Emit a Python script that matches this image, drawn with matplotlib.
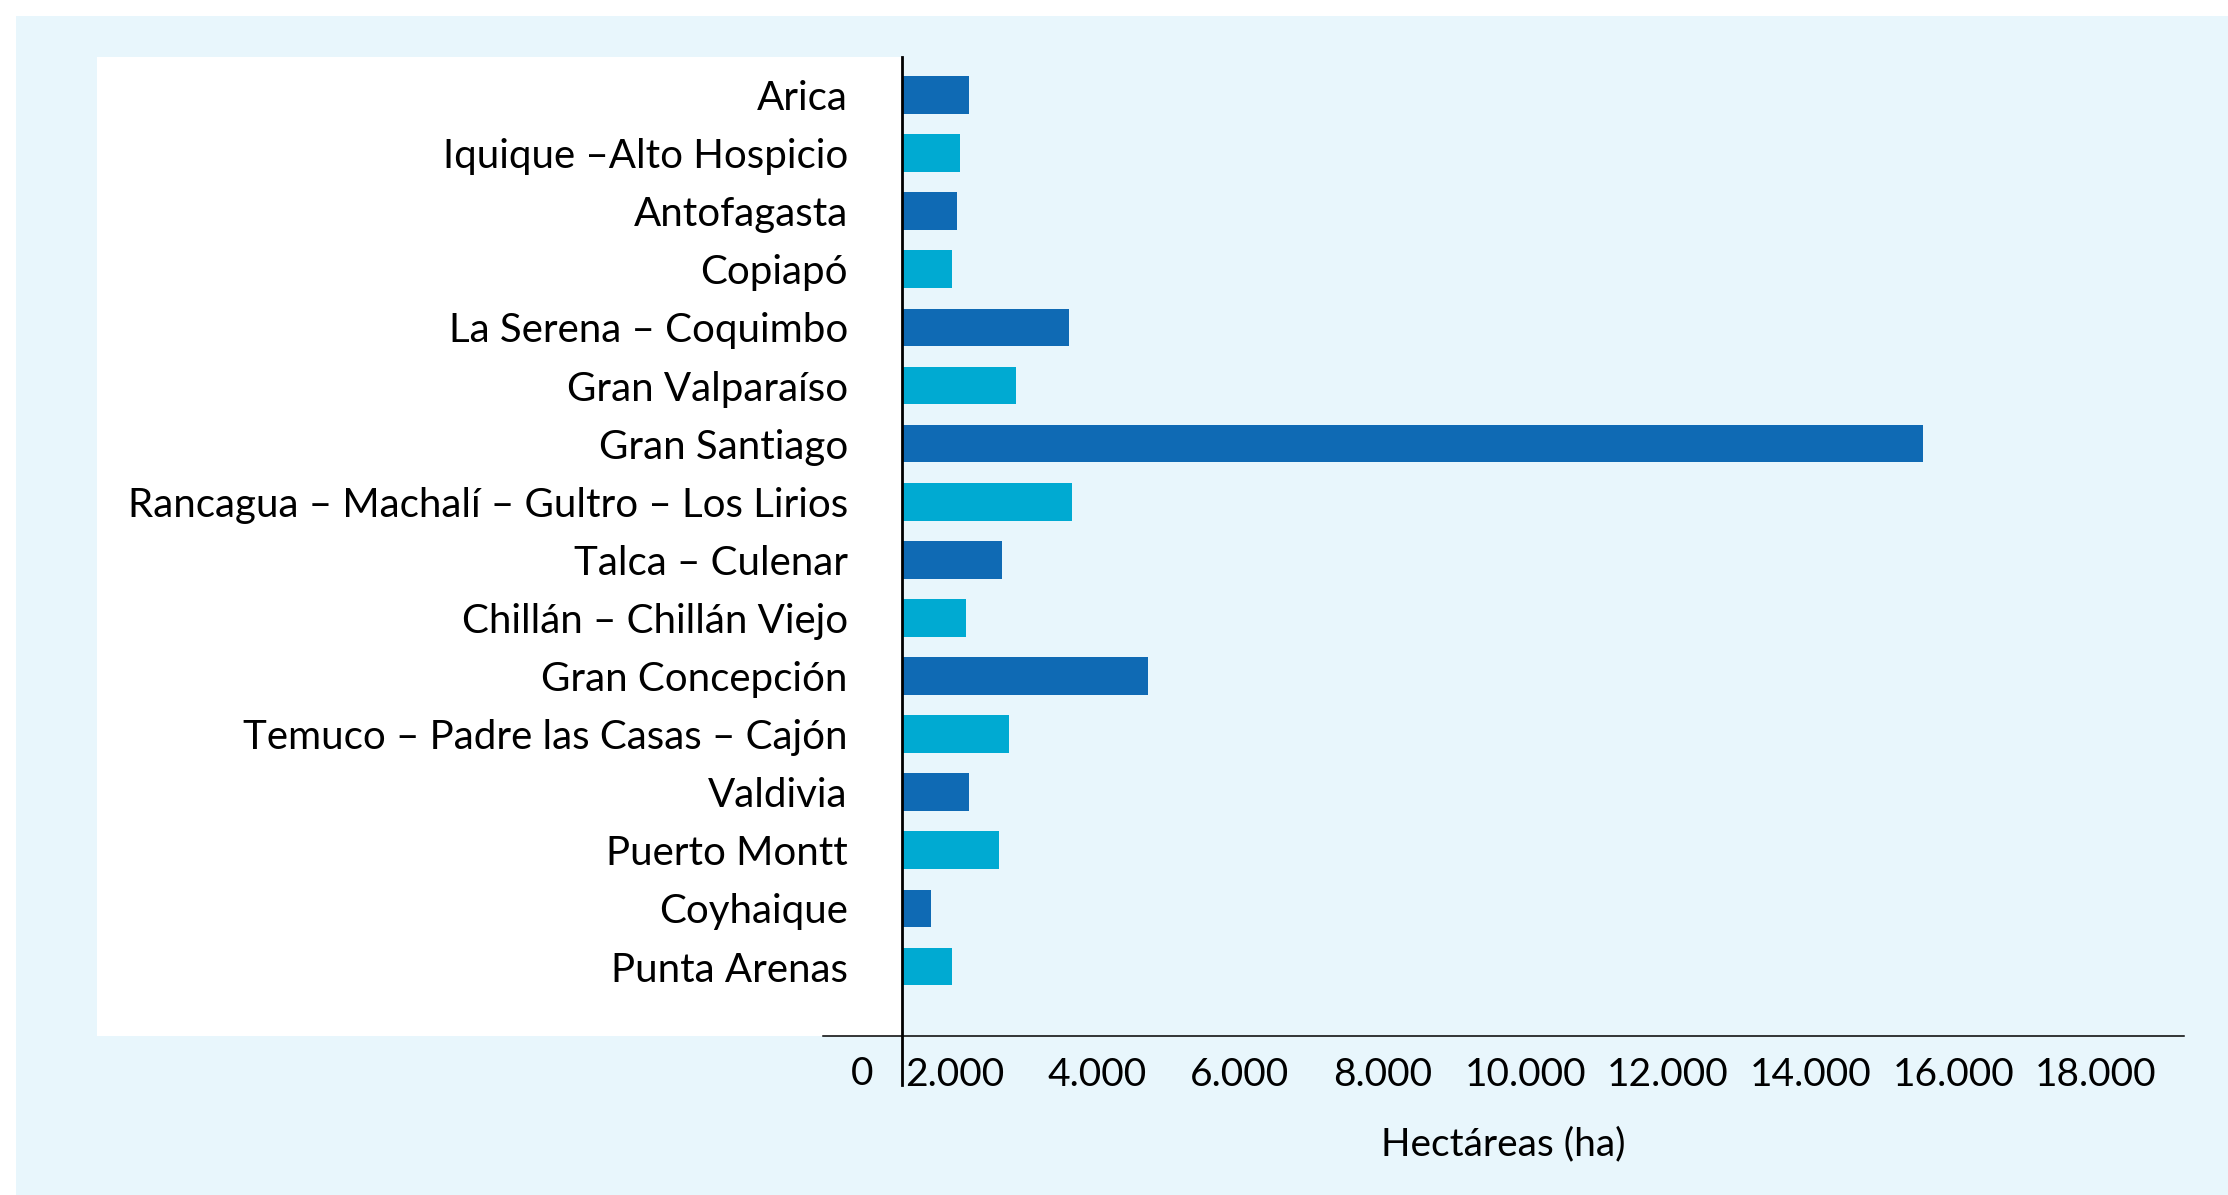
import matplotlib.pyplot as plt
import matplotlib.patches as mpatches
import matplotlib.transforms as mtrans
from matplotlib.ticker import FuncFormatter

# values in hectares
cities = [
    "Arica", "Iquique –Alto Hospicio", "Antofagasta", "Copiapó",
    "La Serena – Coquimbo", "Gran Valparaíso", "Gran Santiago",
    "Rancagua – Machalí – Gultro – Los Lirios", "Talca – Culenar",
    "Chillán – Chillán Viejo", "Gran Concepción",
    "Temuco – Padre las Casas – Cajón", "Valdivia", "Puerto Montt",
    "Coyhaique", "Punta Arenas",
]
hectares = [2200, 2075, 2030, 1960, 3600, 2860, 15580, 3645,
            2665, 2160, 4710, 2760, 2200, 2620, 1670, 1960]
xticks = [2000, 4000, 6000, 8000, 10000, 12000, 14000, 16000, 18000]

# the vertical axis crosses the value axis here (bars start from it)
axis_cross = 1262

dark = "#0F6AB4"
light = "#00AAD2"
bg = "#E8F6FC"
font = "Lato"

W, H = 2228, 1195
fig = plt.figure(figsize=(W / 100, H / 100), dpi=100)
fig.patch.set_facecolor("white")

# light blue panel and white label area
fig.patches.append(mpatches.Rectangle((16 / W, 0), 1, (H - 16) / H,
                                      transform=fig.transFigure,
                                      facecolor=bg, edgecolor="none", zorder=-2))
fig.patches.append(mpatches.Rectangle((97 / W, (H - 1036) / H), (902 - 97) / W,
                                      (1036 - 57) / H, transform=fig.transFigure,
                                      facecolor="white", edgecolor="none", zorder=-1))

ax = fig.add_axes([823 / W, (H - 1036) / H, (2184 - 823) / W, (1036 - 57) / H])
ax.set_facecolor("none")

colors = [dark if i % 2 == 0 else light for i in range(len(cities))]
ypos = list(range(len(cities)))
ax.barh(ypos, [v - axis_cross for v in hectares], left=axis_cross,
        height=0.65, color=colors, zorder=3)

ax.set_xlim(154, 19235)
ax.set_ylim(16.196, -0.654)

for s in ["top", "right"]:
    ax.spines[s].set_visible(False)
ax.spines["left"].set_position(("data", axis_cross))
ax.spines["left"].set_visible(False)
ax.spines["bottom"].set_linewidth(1.1)
ax.axvline(axis_cross, ymin=-(1085 - 1036) / (1036 - 57), ymax=1,
           color="black", lw=2.0, clip_on=False, zorder=4)

ax.set_yticks(ypos)
ax.set_yticklabels(cities, fontsize=29, fontfamily=font)
ax.tick_params(axis="y", length=0, pad=39)

ax.set_xticks(xticks)
ax.xaxis.set_major_formatter(FuncFormatter(lambda v, p: f"{int(v):,}".replace(",", ".")))
ax.tick_params(axis="x", length=0, pad=15, labelsize=28)
for lab in ax.get_xticklabels():
    lab.set_fontfamily(font)

off = mtrans.offset_copy(ax.get_xaxis_transform(), fig=fig, x=-40, y=-38, units="dots")
ax.text(axis_cross, 0, "0", transform=off, fontsize=28, fontfamily=font,
        ha="center", va="center")

ax.set_xlabel("Hectáreas (ha)", fontsize=28, fontfamily=font, labelpad=24)

fig.savefig("out.png", dpi=100)
